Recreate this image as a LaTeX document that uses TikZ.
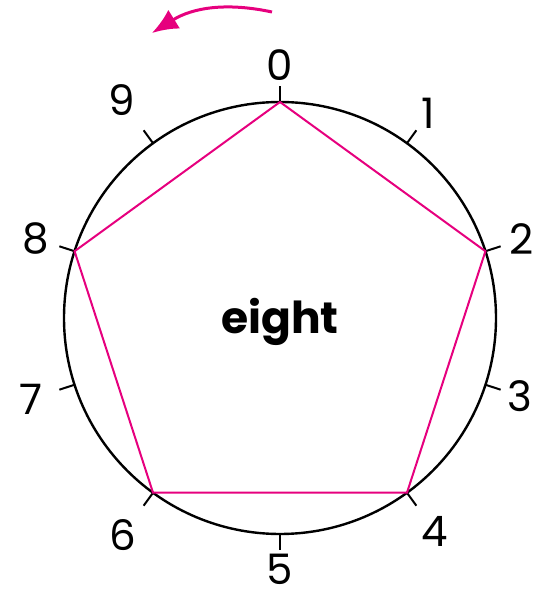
\documentclass[tikz,border=0pt]{standalone}
\usepackage{fontspec}
\setmainfont{Poppins}
\usepackage{tikz}
\usetikzlibrary{arrows.meta}
\definecolor{pinkline}{RGB}{230,0,126}

\begin{document}
\begin{tikzpicture}[x=1pt,y=1pt]
  \useasboundingbox (-140,-140) rectangle (128,159);
  \draw[line width=1.2pt] (0,0) circle (108);

  % ticks, points and numbers
  \foreach \k/\r in {0/126.5,1/126.5,2/127,3/126,4/132,5/125.5,6/134,7/131,8/128.5,9/135} {
    \coordinate (v\k) at ({90-36*\k}:108);
    \coordinate (t\k) at ({90-36*\k}:116);
    \draw[line width=1pt] (v\k) -- (t\k);
    \node[font=\fontsize{21}{21}\selectfont,inner sep=1pt] (l\k) at ({90-36*\k}:\r) {\k};
  }

  \draw[pinkline,line width=1pt,line join=miter] (v0) -- (v2) -- (v4) -- (v6) -- (v8) -- cycle;
  \node[font=\fontsize{22}{22}\bfseries] (word) at (0,-2) {eight};

  % direction arrow
  \coordinate (a0) at (-4,153);
  \coordinate (a1) at (-64,142.5);
  \draw[pinkline,line width=1.5pt,-{Latex[length=13pt,width=11pt]}] (a0) to[bend right=22] (a1);
\end{tikzpicture}
\end{document}
